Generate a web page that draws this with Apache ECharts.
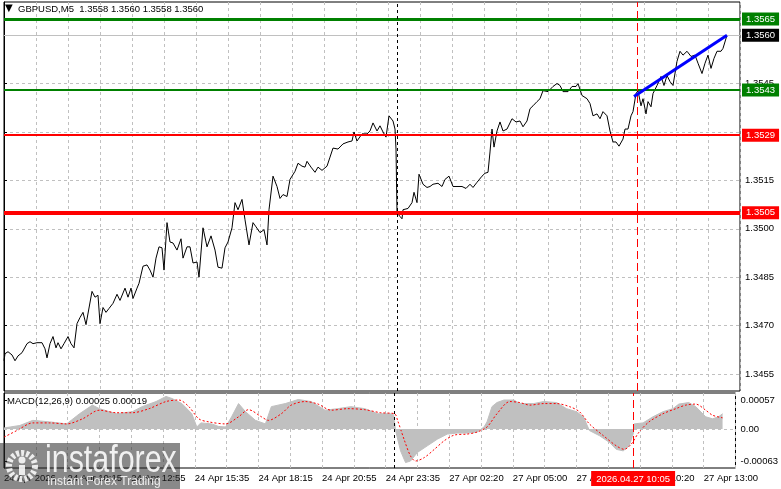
<!DOCTYPE html>
<html><head><meta charset="utf-8">
<script src="https://cdn.jsdelivr.net/npm/echarts@6/dist/echarts.min.js"></script>
<style>html,body{margin:0;padding:0;background:#fff}#c{width:781px;height:489px}</style>
</head><body><div id="c"></div>
<script>
// ---------------- data ----------------
const symbolTitle = 'GBPUSD,M5  1.3558 1.3560 1.3558 1.3560';
const macdTitle = 'MACD(12,26,9) 0.00025 0.00019';
const timeLabels = ['24 Apr 2026','24 Apr 10:15','24 Apr 12:55','24 Apr 15:35','24 Apr 18:15','24 Apr 20:55',
  '24 Apr 23:35','27 Apr 02:20','27 Apr 05:00','27 Apr 07:40','27 Apr 10:20','27 Apr 13:00'];
const timeLabelBars = [0,32,64,96,128,160,192,224,256,288,320,352];
const priceTicks = [1.3455,1.3470,1.3485,1.3500,1.3515,1.3530,1.3545,1.3560];
const macdTicks = [0.00057, 0, -0.00063];

const priceBars = [
 0,0.5,2,4,5.5,7,9,10,11.5,13,
 14.5,16.5,19,20.5,21.5,23,24.5,26,27,28.5,
 30,32,33.5,35,36.5,38,39.5,41,42,44,
 45.5,47,48,49.5,51,52.5,54.5,56.5,58,60.5,
 62,63.5,64.5,66.5,67.5,69.5,71.5,73,74.5,76,
 77.5,79,80,81.5,83,84.5,86.5,88.5,89.5,91.5,
 93,94.5,96.5,97.5,99.5,101.5,103.5,105.5,107,109,
 110.5,112,114,115.5,117,119,120.5,122.5,124.5,126,
 128,130,131.5,132.5,134.5,136.5,138,139.5,141.5,143,
 145.5,147,149,150.5,151.5,153.5,155.5,157,159,161.5,
 163,164.5,167,169.5,172,174,175,176.5,179,181.5,
 183,184.5,186.5,188,189.5,191,192.5,194.5,195.5,196,
 196.5,198,199,199.5,202,204,205,206.5,207.5,209.5,
 211.5,213,214.5,217,219,220.5,222.5,224.5,227,229,
 231,233,234.5,236.5,239,240.5,242,243,244,245,
 246.5,248,249.5,251.5,254,256,258,259.5,261.5,263,
 264.5,266.5,268,269.5,272,274.5,276.5,278,279.5,282,
 284,286,287,289,291.5,293,294.5,296.5,298,299.5,
 301.5,303,304.5,306,307.5,309.5,310.5,312,313.5,314.5,
 316,317,318.5,319.5,321,322,323.5,324.5,326.5,328.5,
 330,331.5,333,334.5,336.5,338,339.5,341.5,343.5,345.5,
 347,349,350.5,352,353.5,355,356.5,358.5,359.5,361.5];
const priceCloses = [
 1.34591,1.34613,1.34619,1.34609,1.34591,1.34606,1.34616,1.34613,1.34644,1.34650,
 1.34644,1.34647,1.34647,1.34628,1.34600,1.34644,1.34666,1.34631,1.34647,1.34628,
 1.34644,1.34666,1.34644,1.34631,1.34706,1.34725,1.34741,1.34703,1.34700,1.34806,
 1.34788,1.34794,1.34706,1.34756,1.34741,1.34753,1.34769,1.34797,1.34778,1.34816,
 1.34788,1.34816,1.34784,1.34816,1.34831,1.34884,1.34888,1.34872,1.34850,1.34909,
 1.34944,1.34941,1.34872,1.35019,1.34959,1.34956,1.34934,1.34969,1.34909,1.34944,
 1.34944,1.34894,1.34897,1.34850,1.35003,1.34944,1.34978,1.34934,1.34881,1.34878,
 1.34941,1.34959,1.35003,1.35081,1.35059,1.35091,1.35028,1.34950,1.35019,1.35006,
 1.34988,1.34997,1.34950,1.35059,1.35163,1.35131,1.35094,1.35106,1.35100,1.35153,
 1.35178,1.35203,1.35194,1.35191,1.35209,1.35191,1.35175,1.35191,1.35181,1.35194,
 1.35222,1.35250,1.35247,1.35263,1.35269,1.35272,1.35300,1.35272,1.35294,1.35294,
 1.35303,1.35328,1.35303,1.35319,1.35300,1.35284,1.35350,1.35334,1.35309,1.35247,
 1.35050,1.35038,1.35031,1.35059,1.35063,1.35081,1.35113,1.35081,1.35169,1.35138,
 1.35128,1.35131,1.35138,1.35141,1.35131,1.35153,1.35163,1.35131,1.35131,1.35131,
 1.35125,1.35138,1.35128,1.35144,1.35163,1.35172,1.35175,1.35238,1.35309,1.35253,
 1.35303,1.35331,1.35303,1.35309,1.35341,1.35331,1.35334,1.35316,1.35334,1.35372,
 1.35381,1.35394,1.35403,1.35428,1.35425,1.35441,1.35450,1.35444,1.35425,1.35425,
 1.35441,1.35441,1.35450,1.35413,1.35403,1.35388,1.35350,1.35356,1.35341,1.35363,
 1.35350,1.35303,1.35269,1.35269,1.35256,1.35278,1.35309,1.35309,1.35350,1.35363,
 1.35419,1.35428,1.35381,1.35403,1.35356,1.35394,1.35378,1.35419,1.35444,1.35472,
 1.35444,1.35475,1.35456,1.35444,1.35519,1.35550,1.35538,1.35550,1.35534,1.35538,
 1.35513,1.35481,1.35513,1.35538,1.35497,1.35528,1.35550,1.35550,1.35559,1.35600];

const levelValues = [1.3565, 1.3543, 1.3529, 1.3505];
const bidPrice = 1.3560;
const trendBars = [315, 361.5];
const trendPrices = [1.3541, 1.3560];
const separatorBar = 196.5;
const cursorBar = 316.5;
const cursorLabel = '2026.04.27 10:05';

const histBars = [0,8,14.5,23,31.5,38,44.5,48,56.5,64.5,69.5,76.5,81.5,84.5,89.5,94.5,97,99,104.5,108,
 111.5,114.5,118,121.5,126.5,131.5,134.5,141.5,148,154.5,161.5,168,174.5,181.5,188,194.5,196,197,199.5,202,
 204.5,208,213,218,223,228,233,238,241.5,243,245.5,248,251.5,256.5,259.5,266.5,271.5,278,283,288,
 291.5,294.5,299.5,304.5,308,311.5,314.5,316.5,317,321.5,326.5,331.5,336.5,339.5,344.5,348,353,356.5,359.5,361.5];
const histValues = [0.00002,0.00007,0.00017,0.00014,0.00010,0.00030,0.00047,0.00040,0.00030,0.00034,0.00044,0.00054,0.00064,0.00060,0.00050,0.00030,0.00004,0.00012,0.00010,0.00005,
 0.00004,0.00024,0.00050,0.00034,0.00017,0.00010,0.00044,0.00050,0.00058,0.00054,0.00037,0.00040,0.00044,0.00040,0.00030,0.00030,0.00028,-0.00003,-0.00043,-0.00066,
 -0.00063,-0.00046,-0.00033,-0.00020,-0.00010,-0.00008,-0.00008,-0.00006,0.00004,0.00014,0.00044,0.00052,0.00057,0.00057,0.00050,0.00050,0.00054,0.00052,0.00040,0.00034,
 0.00024,-0.00003,-0.00013,-0.00026,-0.00040,-0.00043,-0.00033,-0.00010,0.00010,0.00012,0.00024,0.00034,0.00040,0.00049,0.00052,0.00044,0.00024,0.00020,0.00024,0.00030];

const signalBars = [0,6.5,14.5,23,31.5,39.5,48,56.5,64.5,73,81.5,88,93,98,103,111.5,118,123,129.5,133,
 139.5,144.5,151.5,158,164.5,173,181.5,189.5,196.5,198,201.5,204.5,207,211.5,216.5,221.5,226.5,233,238,243,
 248,254.5,259.5,264.5,271.5,278,284.5,289.5,294.5,301.5,308,312,315.5,319.5,324.5,331.5,338,343,348,353,356.5,361.5];
const signalValues = [-0.00016,-0.00003,0.00012,0.00012,0.00010,0.00020,0.00037,0.00032,0.00032,0.00040,0.00054,0.00057,0.00044,0.00020,0.00014,0.00010,0.00024,0.00038,0.00024,0.00017,
 0.00030,0.00047,0.00054,0.00049,0.00037,0.00040,0.00038,0.00032,0.00030,0.00017,-0.00023,-0.00053,-0.00063,-0.00056,-0.00040,-0.00023,-0.00012,-0.00010,-0.00006,0.00004,
 0.00030,0.00054,0.00052,0.00047,0.00050,0.00050,0.00044,0.00034,0.00010,-0.00013,-0.00033,-0.00040,-0.00030,-0.00006,0.00014,0.00030,0.00040,0.00047,0.00049,0.00037,0.00027,0.00022];

// ---------------- chart ----------------
const FONT = 'Liberation Sans';
const FS = 9.5;
const levelStyles = [
  {color:'#008000', width:3}, {color:'#008000', width:2},
  {color:'#ff0000', width:2}, {color:'#ff0000', width:4}
];
const zip = (a,b) => a.map((v,i) => [v, b[i]]);
const gridLine = {show:true, lineStyle:{color:'#c0c0c0', width:1, type:[3,3]}};

const mainMarks = levelValues.map((v,i) => ({
  yAxis: v,
  lineStyle: {color: levelStyles[i].color, width: levelStyles[i].width, type:'solid'},
  label: {show:true, position:'end', distance:2, formatter: () => v.toFixed(4),
    backgroundColor: levelStyles[i].color, color:'#fff', padding:[2,4,1,4],
    fontFamily: FONT, fontSize: FS}
}));
mainMarks.unshift({
  yAxis: bidPrice,
  lineStyle: {color:'#c0c0c0', width:1, type:'solid'},
  label: {show:true, position:'end', distance:2, formatter: () => bidPrice.toFixed(4),
    backgroundColor:'#000', color:'#fff', padding:[2,4,1,4], fontFamily: FONT, fontSize: FS}
});
mainMarks.push({xAxis: separatorBar, lineStyle:{color:'#000', width:1, type:[3,3]}, label:{show:false}});
mainMarks.push({xAxis: cursorBar, lineStyle:{color:'#ff0000', width:1, type:[8,4]}, label:{show:false}});
mainMarks.push([
  {coord:[trendBars[0], trendPrices[0]], lineStyle:{color:'#0000ff', width:3, type:'solid'}, label:{show:false}},
  {coord:[trendBars[1], trendPrices[1]]}
]);

const chart = echarts.init(document.getElementById('c'), null, {renderer:'canvas'});
chart.setOption({
  animation: false,
  backgroundColor: '#fff',
  textStyle: {fontFamily: FONT},
  title: [
    {text:'▼', left:5, top:3, padding:0, textStyle:{fontSize:10, color:'#000', fontWeight:'normal', fontFamily:'DejaVu Sans'}},
    {text: symbolTitle, left:18, top:4, padding:0, textStyle:{fontSize:FS, color:'#000', fontWeight:'normal', fontFamily:FONT}},
    {text: macdTitle, left:7, top:396, padding:0, textStyle:{fontSize:FS, color:'#000', fontWeight:'normal', fontFamily:FONT}}
  ],
  grid: [
    {left:4, right:41, top:2, bottom:98, show:true, borderColor:'#000', borderWidth:1, backgroundColor:'transparent'},
    {left:4, right:41, top:393, bottom:21, show:true, borderColor:'#000', borderWidth:1, backgroundColor:'transparent'}
  ],
  xAxis: [
    {type:'value', gridIndex:0, min:0, max:368, interval:16, axisLabel:{show:false}, axisTick:{show:false},
     axisLine:{show:false}, splitLine: gridLine},
    {type:'value', gridIndex:1, min:0, max:368, interval:16, axisTick:{show:false}, axisLine:{show:false},
     splitLine: gridLine,
     axisLabel:{show:true, align:'left', margin:5, color:'#000', fontFamily:FONT, fontSize:FS,
       showMaxLabel:true, showMinLabel:true,
       formatter: v => { const i = timeLabelBars.indexOf(v); return i >= 0 ? timeLabels[i] : ''; }}}
  ],
  yAxis: [
    {type:'value', gridIndex:0, position:'right', min:1.344973, max:1.357027, scale:true,
     axisLine:{show:true, lineStyle:{color:'#000'}},
     axisTick:{show:true, length:3, customValues: priceTicks, lineStyle:{color:'#000'}},
     axisLabel:{show:true, customValues: priceTicks, margin:5, color:'#000', fontFamily:FONT, fontSize:FS,
       formatter: v => v.toFixed(4)},
     splitLine: gridLine},
    {type:'value', gridIndex:1, position:'right', min:-0.000767, max:0.000708, scale:true,
     axisLine:{show:true, lineStyle:{color:'#000'}},
     axisTick:{show:true, length:3, customValues: macdTicks, lineStyle:{color:'#000'}},
     axisLabel:{show:true, customValues: macdTicks, margin:5, color:'#000', fontFamily:FONT, fontSize:FS,
       formatter: v => Math.abs(v) < 1e-9 ? '0.00' : v.toFixed(5)},
     splitLine:{show:false}}
  ],
  series: [
    {type:'line', xAxisIndex:0, yAxisIndex:0, data: zip(priceBars, priceCloses), showSymbol:false,
     lineStyle:{color:'#000', width:1}, z:3, silent:true,
     markLine:{symbol:['none','none'], silent:true, animation:false, precision:5, z:4, data: mainMarks}},
    {type:'line', xAxisIndex:1, yAxisIndex:1, data: zip(histBars, histValues), showSymbol:false,
     lineStyle:{color:'#c0c0c0', width:1}, areaStyle:{color:'#c0c0c0', opacity:1}, z:2, silent:true,
     markLine:{symbol:['none','none'], silent:true, animation:false, z:4, data:[
       {yAxis:0, lineStyle:{color:'#c0c0c0', width:1, type:[3,3]}, label:{show:false}},
       {xAxis: separatorBar, lineStyle:{color:'#000', width:1, type:[3,3]}, label:{show:false}},
       {xAxis: cursorBar, lineStyle:{color:'#ff0000', width:1, type:[8,4]},
        label:{show:true, position:'start', distance:3, formatter: () => cursorLabel,
          backgroundColor:'#ff0000', color:'#fff', padding:[3,5,2,5], fontFamily:FONT, fontSize:FS}}
     ]}},
    {type:'line', xAxisIndex:1, yAxisIndex:1, data: zip(signalBars, signalValues), showSymbol:false,
     smooth:0.3, lineStyle:{color:'#ff0000', width:1, type:[2,2]}, z:3, silent:true}
  ],
  graphic: [
    {type:'rect', z:100, shape:{x:0, y:443, width:180, height:46}, style:{fill:'rgba(40,40,40,0.55)'}},
    {type:'circle', z:101, shape:{cx:22, cy:466, r:13}, style:{fill:'none', stroke:'rgba(255,255,255,0.85)', lineWidth:6, lineDash:[3,2]}},
    {type:'circle', z:101, shape:{cx:22, cy:460, r:3.5}, style:{fill:'rgba(255,255,255,0.85)'}},
    {type:'rect', z:101, shape:{x:19, y:465, width:6, height:10}, style:{fill:'rgba(255,255,255,0.85)'}},
    {type:'text', z:101, x:45, y:462, scaleX:0.8, style:{x:0, y:0, text:'instaforex', font:'38px "Liberation Sans"',
      fill:'rgba(255,255,255,0.88)', verticalAlign:'middle'}},
    {type:'text', z:101, x:47, y:482, style:{x:0, y:0, text:'Instant Forex Trading', font:'12px "Liberation Sans"',
      fill:'rgba(255,255,255,0.85)', verticalAlign:'middle'}}
  ]
});
</script>
</body></html>
